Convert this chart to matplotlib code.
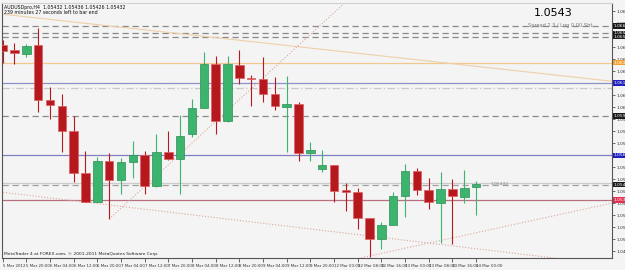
import numpy as np
import matplotlib.pyplot as plt
import matplotlib.transforms as mtransforms

# AUDUSD H4 bars
opens = [1.06475, 1.06434, 1.06408, 1.06475, 1.06063, 1.06018, 1.05830, 1.05515, 1.05301, 1.05605,
         1.05463, 1.05598, 1.05650, 1.05418, 1.05673, 1.05620, 1.05808, 1.06003, 1.06329, 1.05905,
         1.06325, 1.06228, 1.06220, 1.06104, 1.06010, 1.06036, 1.05669, 1.05545, 1.05575, 1.05388,
         1.05376, 1.05178, 1.05020, 1.05125, 1.05343, 1.05530, 1.05388, 1.05294, 1.05399, 1.05339,
         1.05410]
highs = [1.06513, 1.06490, 1.06486, 1.06603, 1.06160, 1.06108, 1.05943, 1.05680, 1.05639, 1.05665,
         1.05628, 1.05755, 1.05680, 1.05808, 1.05830, 1.05950, 1.06070, 1.06423, 1.06393, 1.06389,
         1.06434, 1.06250, 1.06385, 1.06235, 1.06243, 1.06048, 1.05748, 1.05688, 1.05575, 1.05444,
         1.05403, 1.05178, 1.05148, 1.05376, 1.05583, 1.05553, 1.05478, 1.05523, 1.05470, 1.05538,
         1.05459]
lows = [1.06340, 1.06333, 1.06385, 1.05973, 1.05920, 1.05673, 1.05451, 1.05298, 1.05298, 1.05170,
        1.05358, 1.05478, 1.05358, 1.05410, 1.05613, 1.05358, 1.05785, 1.05999, 1.05808, 1.05894,
        1.06183, 1.06018, 1.06048, 1.05984, 1.05676, 1.05609, 1.05605, 1.05526, 1.05301, 1.05234,
        1.05095, 1.04889, 1.04945, 1.05125, 1.05185, 1.05350, 1.05245, 1.04990, 1.04983, 1.05290,
        1.05200]
closes = [1.06430, 1.06415, 1.06471, 1.06066, 1.06025, 1.05830, 1.05519, 1.05301, 1.05605, 1.05463,
          1.05598, 1.05650, 1.05418, 1.05673, 1.05620, 1.05793, 1.06003, 1.06336, 1.05905, 1.06329,
          1.06228, 1.06220, 1.06108, 1.06014, 1.06033, 1.05669, 1.05688, 1.05575, 1.05384, 1.05373,
          1.05181, 1.05020, 1.05125, 1.05343, 1.05530, 1.05388, 1.05298, 1.05399, 1.05343, 1.05406,
          1.05432]

date_labels = ["5 Mar 2012", "5 Mar 20:00", "6 Mar 04:00", "6 Mar 12:00", "6 Mar 20:00",
               "7 Mar 04:00", "7 Mar 12:00", "7 Mar 20:00", "8 Mar 04:00", "8 Mar 12:00",
               "8 Mar 20:00", "9 Mar 04:00", "9 Mar 12:00", "9 Mar 20:00", "12 Mar 00:00",
               "12 Mar 08:00", "12 Mar 16:00", "13 Mar 00:00", "13 Mar 08:00", "13 Mar 16:00",
               "14 Mar 00:00"]

# horizontal lines: price, colour, style, axis label colour
hlines = [
    (1.06618, '#8a8a8a', (0, (5, 3)), '#1a1a1a'),
    (1.06563, '#8a8a8a', (0, (5, 3)), '#1a1a1a'),
    (1.06537, '#8a8a8a', (0, (5, 3)), '#1a1a1a'),
    (1.06342, '#f0c890', '-', '#f0a030'),
    (1.06190, '#9090c8', '-', '#2020c0'),
    (1.06150, '#c8c8c8', (0, (6, 2, 1, 2)), None),
    (1.05943, '#8a8a8a', (0, (5, 3)), '#1a1a1a'),
    (1.05648, '#8080c0', '-', '#2020c0'),
    (1.05444, '#cccccc', '-', None),
    (1.05429, '#a0a0a0', (0, (5, 3)), '#1a1a1a'),
    (1.05313, '#b87080', '-', '#e03050'),
]

# trendlines: (x0, p0, x1, p1)
trend_solid = [(-0.2, 1.06708, 51.5, 1.06203)]
trend_dotted = [(9.0, 1.05170, 28.9, 1.06790),
                (-0.2, 1.05373, 51.5, 1.04826),
                (29.8, 1.04870, 51.5, 1.05290)]

bg = '#f4f4f4'
fig = plt.figure(figsize=(6.25, 2.7), dpi=100, facecolor=bg)
ax = fig.add_axes([2 / 625, 12 / 270, 610 / 625, 255 / 270], facecolor=bg)

x = np.arange(len(opens))
o = np.array(opens)
c = np.array(closes)
h = np.array(highs)
l = np.array(lows)
up = c >= o
red = '#b5191e'
green = '#3cb46e'
cols = np.where(up, green, red)

for p, col, ls, lab in hlines:
    ax.axhline(p, color=col, lw=0.9, ls=ls, zorder=1)

for x0, p0, x1, p1 in trend_solid:
    ax.plot([x0, x1], [p0, p1], color='#efcfa8', lw=0.8, zorder=1)
for x0, p0, x1, p1 in trend_dotted:
    ax.plot([x0, x1], [p0, p1], color='#dba898', lw=0.8, ls=':', zorder=1)

ax.vlines(x, l, h, colors=cols, lw=0.8, zorder=2)
bottoms = np.minimum(o, c)
heights = np.maximum(np.abs(c - o), 0.00003)
ax.bar(x, heights, bottom=bottoms, width=0.72, color=cols,
       edgecolor=np.where(up, '#2e8f55', '#e06060'), lw=0.5, zorder=3)

ax.set_xlim(-0.05, 51.48)
ax.set_ylim(1.04878, 1.0679)

# right price scale
ax.yaxis.tick_right()
yt = 1.0547 + 0.0009 * np.arange(-6, 15)
ax.set_yticks(yt)
ax.set_yticklabels([f"{v:.5f}" for v in yt], fontsize=3.2, color='#333333')
ax.tick_params(axis='y', length=2, width=0.5, pad=1, colors='#333333')

ax.set_xticks(x[::2])
ax.set_xticklabels(date_labels, fontsize=2.9, color='#333333', ha='left')
ax.tick_params(axis='x', length=3, width=0.5, pad=1, colors='#333333')

for side in ['left', 'right', 'bottom']:
    ax.spines[side].set_color('#555555')
    ax.spines[side].set_linewidth(0.8)
ax.spines['top'].set_color('#d0d0d0')

trans = mtransforms.blended_transform_factory(ax.transAxes, ax.transData)
for p, col, ls, lab in hlines:
    if lab is None:
        continue
    ax.text(1.003, p, f"{p:.5f}", transform=trans, fontsize=3.2, color='white',
            va='center', ha='left', clip_on=False,
            bbox=dict(boxstyle='square,pad=0.15', fc=lab, ec='none'))

# texts
fig.text(4 / 625, 1 - 7 / 270, "AUDUSDpro,H4  1.05432 1.05436 1.05426 1.05432",
         fontsize=3.4, color='#111111', va='center')
fig.text(4 / 625, 1 - 13 / 270, "239 minutes 27 seconds left to bar end",
         fontsize=3.4, color='#111111', va='center')
fig.text(553 / 625, 1 - 13 / 270, "1.0543", fontsize=8, color='black', ha='center', va='center')
fig.text(528 / 625, 1 - 25 / 270, "Spread 2.3 / Lng 0.00 Sht", fontsize=3.6, color='#777777',
         va='center')
fig.text(4 / 625, 1 - 254 / 270, "MetaTrader 4 at FOREX.com, \u00a9 2001-2011 MetaQuotes Software Corp.",
         fontsize=3.2, color='#222222', va='center')
ax.text(x[-1] + 1.2, closes[-1], f"{closes[-1]:.5f}", fontsize=3.2, color='#888888', va='center')

fig.savefig('out.png', dpi=100, facecolor=bg)
